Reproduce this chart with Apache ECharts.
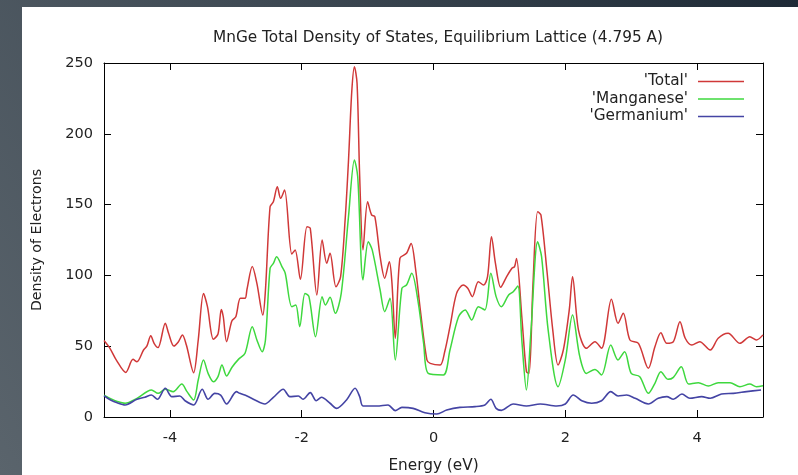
<!DOCTYPE html>
<html>
<head>
<meta charset="utf-8">
<script src="https://cdn.jsdelivr.net/npm/echarts@6/dist/echarts.min.js"></script>
<style>html,body{margin:0;padding:0;}#c{width:798px;height:475px;}</style>
</head>
<body>
<div id="c"></div>
<script>
// ---- Data ----
const totalE = [-5.00,-4.91,-4.81,-4.67,-4.56,-4.50,-4.40,-4.35,-4.29,-4.24,-4.18,-4.07,-4.02,-3.94,-3.87,-3.81,-3.75,-3.64,-3.57,-3.49,-3.43,-3.34,-3.27,-3.22,-3.19,-3.14,-3.06,-3.00,-2.93,-2.86,-2.83,-2.75,-2.68,-2.59,-2.55,-2.48,-2.43,-2.37,-2.32,-2.26,-2.15,-2.10,-2.02,-1.92,-1.87,-1.77,-1.69,-1.62,-1.57,-1.48,-1.41,-1.34,-1.29,-1.24,-1.20,-1.16,-1.12,-1.07,-1.00,-0.94,-0.89,-0.81,-0.74,-0.67,-0.63,-0.58,-0.51,-0.41,-0.34,-0.27,-0.20,-0.10,-0.05,0.10,0.17,0.25,0.35,0.45,0.52,0.59,0.68,0.76,0.82,0.88,0.94,1.02,1.11,1.19,1.23,1.26,1.34,1.41,1.45,1.51,1.58,1.63,1.72,1.81,1.89,1.97,2.06,2.11,2.20,2.32,2.45,2.55,2.70,2.80,2.88,2.98,3.11,3.26,3.36,3.45,3.54,3.64,3.74,3.82,3.92,4.04,4.20,4.32,4.47,4.65,4.80,4.90,5.00];
const totalV = [54,48.5,40,31.5,40.7,39,47.3,50,57.4,52,49,66.2,59.1,50.1,53.2,57.9,50.8,31.3,54.4,87.3,77.9,54.9,58.6,76,70.8,53.2,67.8,70.8,83.8,83.8,90.2,106.2,94.4,72,89.7,148.5,152,162.6,154.4,160.3,115.1,118,97.2,134.4,133.2,86.2,125,108.5,115.6,92,99,140,181,230,247.4,235.7,169.7,118,152,142.7,141.5,113.2,98,109.7,94.4,55.6,112,115.6,122.6,103.8,75.6,40.3,37.9,36.7,46.1,63.8,87.3,93.2,90.9,85,95.6,93.2,99.1,127.3,108.5,91.6,99.1,105,106.2,112,70.8,32,30.8,94.4,145,142.7,103.8,61.4,36.7,47.3,75.6,99.1,61.4,48.5,53.2,48.5,83.1,66.2,73.2,54.4,52,34.4,49.6,59.5,52,53.2,67.3,55.6,50.8,53.2,47.3,55.6,59.1,52,56.7,54.4,58];

const mnE = [-5.00,-4.90,-4.80,-4.68,-4.50,-4.28,-4.18,-4.07,-3.95,-3.82,-3.74,-3.64,-3.57,-3.49,-3.42,-3.34,-3.27,-3.21,-3.14,-3.06,-2.96,-2.86,-2.75,-2.68,-2.60,-2.55,-2.48,-2.43,-2.38,-2.30,-2.25,-2.15,-2.09,-2.03,-1.95,-1.89,-1.79,-1.69,-1.64,-1.57,-1.49,-1.40,-1.29,-1.20,-1.15,-1.07,-0.99,-0.93,-0.81,-0.74,-0.66,-0.58,-0.48,-0.41,-0.33,-0.23,-0.15,-0.08,0.15,0.25,0.38,0.48,0.58,0.68,0.78,0.87,0.95,1.03,1.14,1.21,1.28,1.34,1.41,1.48,1.58,1.64,1.74,1.89,2.00,2.11,2.22,2.32,2.45,2.55,2.69,2.80,2.90,3.00,3.13,3.26,3.36,3.45,3.56,3.64,3.76,3.87,4.02,4.17,4.32,4.50,4.65,4.80,4.90,5.00];
const mnV = [15.5,13,11,9.7,13.2,19.1,16.7,19.6,17.9,23.3,17.9,12,26.1,40.3,30.8,24.9,28.5,36.7,29,35,40.7,45,63.8,54.4,46.1,54.4,105,108.5,113.2,106.2,101.5,77.9,79.1,63.8,87.3,85,56.7,85,79.1,84.5,73.2,87.3,141.5,181.5,169.7,96.8,123.8,118,89.7,74.4,83.8,40.3,90.9,93.2,101.5,80.3,52,30.8,29.7,47.3,70.8,75.6,68.5,77.9,75.6,101.5,85,77.9,86.2,88.5,92.5,54.4,19.1,61.4,123.8,113.2,61.4,21.4,40.3,72,42.6,30.8,33.6,29.7,50.8,40.3,46.1,30.8,28.5,16.7,23.8,32,26.6,28,35.5,23.3,24.2,21.9,24.2,24.2,21.4,23.3,21.4,22];

const geE = [-5.00,-4.90,-4.80,-4.68,-4.50,-4.38,-4.28,-4.19,-4.07,-3.97,-3.85,-3.77,-3.64,-3.51,-3.42,-3.32,-3.23,-3.14,-2.99,-2.94,-2.83,-2.71,-2.56,-2.43,-2.28,-2.18,-2.05,-1.98,-1.87,-1.78,-1.70,-1.57,-1.47,-1.32,-1.19,-1.12,-1.07,-0.86,-0.69,-0.58,-0.48,-0.31,-0.13,0.05,0.20,0.40,0.63,0.78,0.87,0.95,1.03,1.21,1.41,1.62,1.87,2.00,2.12,2.25,2.40,2.55,2.69,2.80,2.93,3.06,3.26,3.41,3.54,3.64,3.77,3.89,4.07,4.20,4.37,4.55,4.75,4.97];
const geV = [15,12,10,8.5,12.5,13.9,15.5,12.5,20.3,14.4,14.8,11.5,8.5,19.6,12.5,16.7,15.5,9.2,17.9,16.7,14.8,12,9.2,13.9,19.6,14.4,14.8,12.5,17.2,11.5,13.9,9.7,6.1,12,20.3,14.4,7.8,7.8,8.5,4.5,6.8,6.1,3,2.1,4.9,6.8,7.3,8.5,12.5,6.1,4.7,9.2,7.8,9.2,7.8,9.2,15.5,11.5,9.7,11.5,17.9,14.8,15.5,13.2,9.2,13.2,14.4,12.5,16.2,13.2,14.4,13.2,16.2,16.7,17.9,19.1];

const xTicks = [-4,-2,0,2,4];
const seriesNames = ["'Total'", "'Manganese'", "'Germanium'"];
const titleText = 'MnGe Total Density of States, Equilibrium Lattice (4.795 A)';

const pairs = (xs, ys) => xs.map((x, i) => [x, ys[i]]);

const FONT = 'DejaVu Sans';
const chart = echarts.init(document.getElementById('c'), null, {renderer: 'canvas'});

const axisLine = {show: true, onZero: false, lineStyle: {color: '#000', width: 1}};
const tick = {show: true, inside: true, length: 7, lineStyle: {color: '#000', width: 1}};

chart.setOption({
  animation: false,
  backgroundColor: {
    type: 'linear', x: 0, y: 1, x2: 1, y2: 0,
    colorStops: [{offset: 0, color: '#5a646c'}, {offset: 0.5, color: '#3f4a54'}, {offset: 1, color: '#1e2a36'}]
  },
  graphic: [{type: 'rect', z: -10, silent: true, shape: {x: 22, y: 7, width: 776, height: 468}, style: {fill: '#ffffff'}}],
  title: {
    text: titleText, left: 433, top: 26, textAlign: 'center',
    textStyle: {fontFamily: FONT, fontSize: 15.3, fontWeight: 'normal', color: '#222'}
  },
  legend: {
    orient: 'vertical', right: 54, top: 74, align: 'right', padding: 0,
    icon: 'rect', itemWidth: 46, itemHeight: 1.5, itemGap: 2.5,
    textStyle: {fontFamily: FONT, fontSize: 15.3, color: '#222', padding: [0, 5, 0, 0]},
    data: seriesNames
  },
  grid: {left: 104, right: 35, top: 63, bottom: 58, containLabel: false, outerBoundsMode: 'none'},
  xAxis: [{
    type: 'value', min: -5, max: 5, position: 'bottom',
    axisLine: axisLine,
    axisTick: Object.assign({customValues: xTicks}, tick),
    axisLabel: {customValues: xTicks, fontFamily: FONT, fontSize: 14.5, color: '#222', margin: 14},
    splitLine: {show: false},
    name: 'Energy (eV)', nameLocation: 'middle', nameGap: 42,
    nameTextStyle: {fontFamily: FONT, fontSize: 15.3, color: '#222'}
  }, {
    type: 'value', min: -5, max: 5, position: 'top',
    axisLine: axisLine,
    axisTick: Object.assign({customValues: xTicks}, tick),
    axisLabel: {show: false}, splitLine: {show: false}
  }],
  yAxis: [{
    type: 'value', min: 0, max: 250, interval: 50, position: 'left',
    axisLine: axisLine, axisTick: tick,
    axisLabel: {fontFamily: FONT, fontSize: 14.5, color: '#222', margin: 11},
    splitLine: {show: false},
    name: 'Density of Electrons', nameLocation: 'middle', nameGap: 60,
    nameTextStyle: {fontFamily: FONT, fontSize: 14.2, color: '#222'}
  }, {
    type: 'value', min: 0, max: 250, interval: 50, position: 'right',
    axisLine: axisLine, axisTick: tick,
    axisLabel: {show: false}, splitLine: {show: false}
  }],
  series: [
    {name: seriesNames[0], type: 'line', data: pairs(totalE, totalV), showSymbol: false, symbol: 'none', smooth: 0.3,
     lineStyle: {color: '#d03838', width: 1.5}, itemStyle: {color: '#d03838'}},
    {name: seriesNames[1], type: 'line', data: pairs(mnE, mnV), showSymbol: false, symbol: 'none', smooth: 0.3,
     lineStyle: {color: '#3ed83e', width: 1.5}, itemStyle: {color: '#3ed83e'}},
    {name: seriesNames[2], type: 'line', data: pairs(geE, geV), showSymbol: false, symbol: 'none', smooth: 0.3,
     lineStyle: {color: '#4444a4', width: 1.6}, itemStyle: {color: '#4444a4'}}
  ]
});
</script>
</body>
</html>
